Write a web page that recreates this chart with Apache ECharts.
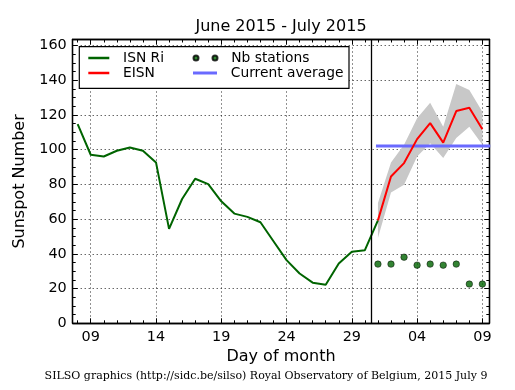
<!DOCTYPE html>
<html>
<head>
<meta charset="utf-8">
<script src="https://cdn.jsdelivr.net/npm/echarts@6/dist/echarts.min.js"></script>
<style>html,body{margin:0;padding:0;background:#fff;}#c{width:515px;height:390px;}</style>
</head>
<body>
<div id="c"></div>
<script>
// Days counted from June 1 (July d = 30 + d)
const isnDays = [8,9,10,11,12,13,14,15,16,17,18,19,20,21,22,23,24,25,26,27,28,29,30,31];
const isnValues = [114.7,97.1,96.1,99.4,101.3,99.4,92.7,54.4,71.6,83.3,80.2,70.3,63.2,61.3,58.2,47.3,36.4,28.7,23.4,22.2,34.5,41.2,42.1,59.3];
const eisnDays = [31,32,33,34,35,36,37,38,39];
const eisnValues = [59.3,84.6,92.3,106.1,115.3,104.1,122.3,124.2,111.8];
const bandLow = [49.2,75.4,79.8,96.1,103.8,95.2,106.7,113.3,102.8];
const bandHigh = [69.3,92.6,102.8,118.1,127.1,113.3,137.9,134.4,121.9];
const stationValues = [34.1,34.1,38.1,33.5,34.1,33.5,34.1,22.6,22.6];
const currentAverage = 102.1;
const averageDays = [30.85, 39.6];
const separatorDay = 30.5;
const xMin = 7.62, xMax = 39.53;
const yMin = 0, yMax = 163.5;
const xMajorTicks = [9,14,19,24,29,34,39];
const xMinorTicks = [8,9,10,11,12,13,14,15,16,17,18,19,20,21,22,23,24,25,26,27,28,29,30,31,32,33,34,35,36,37,38,39];
const yMajorTicks = [0,20,40,60,80,100,120,140,160];
const yMinorTicks = [5,10,15,25,30,35,45,50,55,65,70,75,85,90,95,105,110,115,125,130,135,145,150,155];

const FONT = 'DejaVu Sans';
const fmtDay = v => { const d = v > 30 ? v - 30 : v; return (d < 10 ? '0' : '') + d; };

function xAxisDef(pos, ticks, len, labels, split) {
  return {
    type: 'value', position: pos, min: xMin, max: xMax,
    axisLine: { show: true, onZero: false, lineStyle: { color: '#000', width: 1.3 } },
    axisTick: { show: true, inside: true, length: len, customValues: ticks, lineStyle: { color: '#000', width: 1 } },
    axisLabel: labels ? { show: true, customValues: ticks, formatter: fmtDay, margin: 7, color: '#000', fontFamily: FONT, fontSize: 14.4 } : { show: false },
    splitLine: split ? { show: true, lineStyle: { color: '#222', width: 1, type: [1, 3] } } : { show: false },
    minorTick: { show: false }
  };
}
function yAxisDef(pos, ticks, len, labels, split) {
  return {
    type: 'value', position: pos, min: yMin, max: yMax,
    axisLine: { show: true, onZero: false, lineStyle: { color: '#000', width: 1.3 } },
    axisTick: { show: true, inside: true, length: len, customValues: ticks, lineStyle: { color: '#000', width: 1 } },
    axisLabel: labels ? { show: true, customValues: ticks, margin: 6, color: '#000', fontFamily: FONT, fontSize: 14.4 } : { show: false },
    splitLine: split ? { show: true, lineStyle: { color: '#222', width: 1, type: [1, 3] } } : { show: false },
    minorTick: { show: false }
  };
}

const xAxes = [
  xAxisDef('bottom', xMajorTicks, 5, true, true),
  xAxisDef('bottom', xMinorTicks, 3, false, false),
  xAxisDef('top', xMajorTicks, 5, false, false),
  xAxisDef('top', xMinorTicks, 3, false, false)
];
Object.assign(xAxes[0], { name: 'Day of month', nameLocation: 'middle', nameGap: 25, nameTextStyle: { color: '#000', fontFamily: FONT, fontSize: 16 } });
const yAxes = [
  yAxisDef('left', yMajorTicks, 5, true, true),
  yAxisDef('left', yMinorTicks, 3, false, false),
  yAxisDef('right', yMajorTicks, 5, false, false),
  yAxisDef('right', yMinorTicks, 3, false, false)
];
Object.assign(yAxes[0], { name: 'Sunspot Number', nameLocation: 'middle', nameGap: 40, nameTextStyle: { color: '#000', fontFamily: FONT, fontSize: 16 } });

const bandData = eisnDays.map((d, i) => [d, bandLow[i], bandHigh[i]]);

const legendText = { color: '#000', fontFamily: FONT, fontSize: 13.8 };
function legendDef(name, left, top, w, h, icon) {
  return {
    data: [{ name: name, icon: icon }], left: left, top: top, itemWidth: w, itemHeight: h, padding: 0,
    textStyle: legendText, selectedMode: false, z: 10,
    formatter: n => '  ' + n
  };
}
const dotsIcon = 'path://M0,2.5a2.5,2.5 0 1,0 5,0a2.5,2.5 0 1,0 -5,0z M19,2.5a2.5,2.5 0 1,0 5,0a2.5,2.5 0 1,0 -5,0z';

const chart = echarts.init(document.getElementById('c'), null, { renderer: 'canvas' });
chart.setOption({
  animation: false,
  backgroundColor: '#fff',
  grid: { left: 72.7, right: 25.7, top: 39.5, bottom: 66.7, outerBoundsMode: 'none' },
  xAxis: xAxes,
  yAxis: yAxes,
  legend: [
    legendDef('ISN Ri', 88.3, 51, 21, 2.5, 'rect'),
    legendDef('EISN', 88.3, 66, 21, 2.5, 'rect'),
    legendDef('Nb stations', 192.5, 51, 24, 5, dotsIcon),
    legendDef('Current average', 193, 66, 24, 3, 'rect')
  ],
  graphic: [
    { type: 'rect', z: 5, shape: { x: 79.3, y: 46.7, width: 269.7, height: 41.6 }, style: { fill: '#fff', stroke: '#000', lineWidth: 1.2 } },
    { type: 'text', x: 281, y: 27, style: { text: 'June 2015 - July 2015', fill: '#000', font: '16px "DejaVu Sans"', textAlign: 'center', textVerticalAlign: 'middle' } },
    { type: 'text', x: 266, y: 376, style: { text: 'SILSO graphics (http://sidc.be/silso) Royal Observatory of Belgium, 2015 July 9', fill: '#000', font: '11px "DejaVu Serif"', textAlign: 'center', textVerticalAlign: 'middle' } }
  ],
  series: [
    {
      name: 'band', type: 'custom', xAxisIndex: 0, yAxisIndex: 0, z: 1, clip: true, silent: true,
      encode: { x: 0, y: [1, 2] },
      data: bandData,
      renderItem: function (params, api) {
        if (params.dataIndex !== 0) return null;
        const pts = [];
        for (let i = 0; i < bandData.length; i++) pts.push(api.coord([bandData[i][0], bandData[i][2]]));
        for (let i = bandData.length - 1; i >= 0; i--) pts.push(api.coord([bandData[i][0], bandData[i][1]]));
        return { type: 'polygon', shape: { points: pts }, style: { fill: '#c8c8c8' } };
      }
    },
    {
      name: 'Current average', type: 'line', xAxisIndex: 0, yAxisIndex: 0, z: 2, showSymbol: false, symbol: 'none',
      color: '#6a6aff',
      lineStyle: { color: '#6a6aff', width: 3 },
      data: averageDays.map(d => [d, currentAverage])
    },
    {
      name: 'ISN Ri', type: 'line', xAxisIndex: 0, yAxisIndex: 0, z: 3, symbol: 'none',
      color: '#006400',
      lineStyle: { color: '#006400', width: 2 },
      data: isnDays.map((d, i) => [d, isnValues[i]]),
      markLine: {
        silent: true, symbol: ['none', 'none'], label: { show: false },
        lineStyle: { color: '#000', type: 'solid', width: 1.3 },
        data: [{ xAxis: separatorDay }]
      }
    },
    {
      name: 'EISN', type: 'line', xAxisIndex: 0, yAxisIndex: 0, z: 4, symbol: 'none',
      color: '#ff0000',
      lineStyle: { color: '#ff0000', width: 2 },
      data: eisnDays.map((d, i) => [d, eisnValues[i]])
    },
    {
      name: 'Nb stations', type: 'scatter', xAxisIndex: 0, yAxisIndex: 0, z: 5, symbol: 'circle', symbolSize: 6.5,
      itemStyle: { color: '#006400', borderColor: '#000', borderWidth: 0.6 },
      data: eisnDays.map((d, i) => [d, stationValues[i]])
    }
  ]
});
</script>
</body>
</html>
